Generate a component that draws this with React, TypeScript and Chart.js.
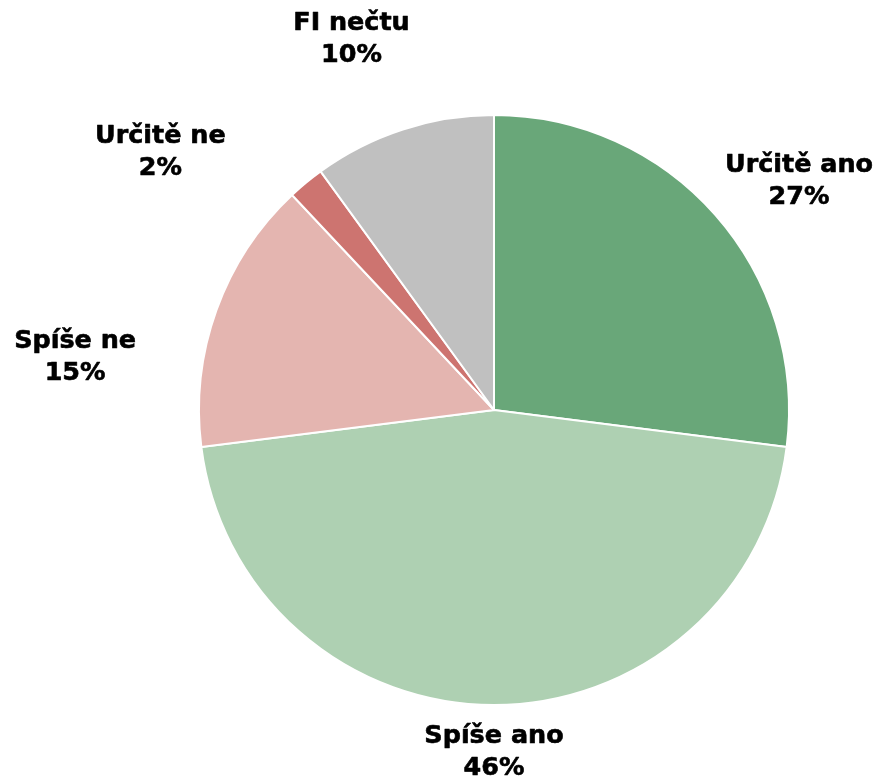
import React, { useEffect, useRef } from "react";
import { Chart, registerables } from "chart.js";

Chart.register(...registerables);

const categories = ["Určitě ano", "Spíše ano", "Spíše ne", "Určitě ne", "FI nečtu"];
const values = [27, 46, 15, 2, 10];
const colors = ["#69a779", "#aed0b2", "#e4b5b0", "#cd7470", "#c0c0c0"];
// label first-line baseline, relative to pie centre, in units of the pie radius
const labelOffsets: [number, number][] = [
  [1.034, -0.807],
  [0, 1.129],
  [-1.42, -0.21],
  [-1.131, -0.905],
  [-0.483, -1.288],
];

const labelPlugin = {
  id: "outsideLabels",
  afterDraw(chart: any) {
    const ctx = chart.ctx;
    const meta = chart.getDatasetMeta(0);
    meta.data.forEach((arc: any, i: number) => {
      const r = arc.outerRadius;
      const x = arc.x + labelOffsets[i][0] * r;
      const y = arc.y + labelOffsets[i][1] * r;
      ctx.save();
      ctx.font = "bold 24px 'DejaVu Sans'";
      ctx.fillStyle = "#000000";
      ctx.strokeStyle = "#000000";
      ctx.lineWidth = 0.6;
      ctx.lineJoin = "round";
      ctx.textAlign = "center";
      ctx.textBaseline = "alphabetic";
      ctx.translate(x, y);
      ctx.scale(1.06, 1);
      const pct = values[i] + "%";
      ctx.fillText(categories[i], 0, 0);
      ctx.strokeText(categories[i], 0, 0);
      ctx.fillText(pct, 0, 32);
      ctx.strokeText(pct, 0, 32);
      ctx.restore();
    });
  },
};

export default function App() {
  const ref = useRef<HTMLCanvasElement>(null);
  useEffect(() => {
    if (!ref.current) return;
    const chart = new Chart(ref.current, {
      type: "pie",
      data: {
        labels: categories,
        datasets: [
          {
            data: values,
            backgroundColor: colors,
            borderColor: "#ffffff",
            borderWidth: 2,
          },
        ],
      },
      options: {
        responsive: false,
        animation: false,
        layout: { padding: { left: 198, right: 89, top: 114, bottom: 71 } },
        plugins: {
          legend: { display: false },
          tooltip: { enabled: false },
        },
      },
      plugins: [labelPlugin],
    });
    return () => chart.destroy();
  }, []);
  return (
    <div style={{ position: "fixed", left: 0, top: 0, width: 879, height: 777, background: "#fff" }}>
      <canvas ref={ref} width={879} height={777} />
    </div>
  );
}
